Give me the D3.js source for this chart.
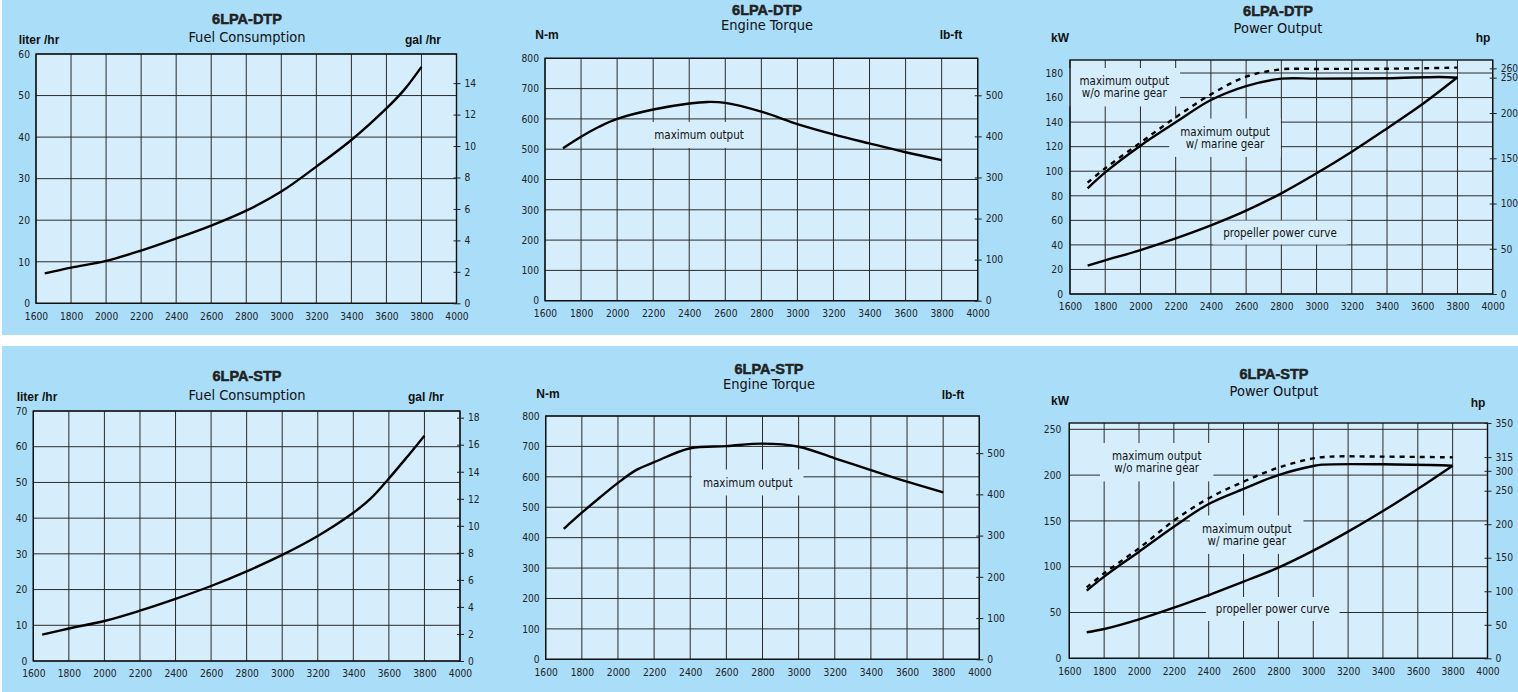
<!DOCTYPE html>
<html><head><meta charset="utf-8">
<script src="https://cdn.jsdelivr.net/npm/d3@7"></script>
<style>
html,body{margin:0;padding:0;background:#fff;}
svg{display:block;}
.tk text{font-family:'Liberation Sans Narrow','Arial Narrow','DejaVu Sans Condensed',sans-serif;font-size:10.2px;fill:#222;}
</style></head><body>
<svg id="c" width="1518" height="692"></svg>
<script>
// ---------- shared ----------
const rpmTicks = [1600,1800,2000,2200,2400,2600,2800,3000,3200,3400,3600,3800,4000];
const torqueNmTicks = [0,100,200,300,400,500,600,700,800];
const torqueLbftTicks = [0,100,200,300,400,500];
const NM_PER_LBFT = 1.3558;
const L_PER_GAL = 3.785;

// ---------- 6LPA-DTP ----------
const dtpFuelRpm = [1650,1800,2000,2200,2400,2600,2800,3000,3200,3400,3600,3700,3800];
const dtpFuelLph = [7.2,8.6,10.2,12.7,15.6,18.7,22.3,26.9,32.9,39.3,46.9,51.3,56.9];
const dtpFuelTicks = [0,10,20,30,40,50,60];
const dtpFuelGalTicks = [0,2,4,6,8,10,12,14];

const dtpTorqueRpm = [1700,1800,1900,2000,2200,2400,2500,2600,2800,3000,3200,3400,3600,3800];
const dtpTorqueNm = [503,541,574,600,631,651,656,653,624,583,549,519,490,464];

const dtpGearRpm = [1700,1800,2000,2200,2400,2600,2800,3000,3400,3700,3800];
const dtpGearKw = [86.1,99.1,120.8,139.8,158,169.4,175.4,175.4,175.7,176.8,176.2];
const dtpNoGearRpm = [1700,1800,2000,2200,2400,2600,2800,3000,3400,3800];
const dtpNoGearKw = [90.7,102.4,123.3,143.9,162.6,177,183,183.3,183.5,184.4];
const dtpPropRpm = [1700,1800,2000,2200,2400,2600,2800,3000,3200,3400,3600,3800];
const dtpPropKw = [23.1,27.4,35.8,45.3,55.9,67.9,82,98.3,115.9,134.9,154.5,176.5];
const dtpKwTicks = [0,20,40,60,80,100,120,140,160,180];
const dtpHpTicks = [0,50,100,150,200,250,260];
const dtpHpCalHp = [0,200,250,260];
const dtpHpCalKw = [0,147.4,176.2,183.8];

// ---------- 6LPA-STP ----------
const stpFuelRpm = [1650,1800,2000,2200,2400,2600,2800,3000,3200,3400,3500,3600,3700,3800];
const stpFuelLph = [7.4,9.1,11.2,14.1,17.4,21.0,25.1,29.7,35.0,41.5,45.6,51.1,57.0,63.1];
const stpFuelTicks = [0,10,20,30,40,50,60,70];
const stpFuelGalTicks = [0,2,4,6,8,10,12,14,16,18];

const stpTorqueRpm = [1700,1800,1900,2000,2100,2200,2400,2600,2800,3000,3200,3400,3600,3800];
const stpTorqueNm = [429,482,532,580,622,648,694,701,709,699,661,622,584,549];

const stpGearRpm = [1700,1800,2000,2200,2400,2600,2800,3000,3050,3400,3800];
const stpGearKw = [73.9,89.2,116.4,143.7,168.5,184.9,200.1,210,211.4,211.8,210.3];
const stpNoGearRpm = [1700,1800,2000,2200,2400,2600,2800,3000,3100,3400,3800];
const stpNoGearKw = [77.5,92.8,120.1,150.3,174.7,192.9,208.2,218.3,220.2,220.2,219.4];
const stpPropRpm = [1700,1800,2000,2200,2400,2600,2800,3000,3200,3400,3600,3800];
const stpPropKw = [28.4,32,42.6,55.3,69.1,83.7,99,117.5,138.3,160.8,184.9,210.3];
const stpKwTicks = [0,50,100,150,200,250];
const stpHpTicks = [0,50,100,150,200,250,300,315,350];
const stpHpCalHp = [0,250,300,315,350];
const stpHpCalKw = [0,183,204.7,219.7,256.9];

// ---------- drawing ----------
const svg = d3.select('#c');
const BG = '#a9ddf8', PLOT = '#d6eefb';
const NARROW = "'Liberation Sans Narrow','Arial Narrow','DejaVu Sans Condensed',sans-serif";
const SANS = "'Liberation Sans',Arial,sans-serif";

svg.append('rect').attr('x',0).attr('y',0).attr('width',1518).attr('height',692).attr('fill','#fff');
svg.append('rect').attr('x',2).attr('y',0).attr('width',1516).attr('height',335).attr('fill',BG);
svg.append('rect').attr('x',2).attr('y',346).attr('width',1516).attr('height',346).attr('fill',BG);

function panel(c){
  const g = svg.append('g');
  const x = d3.scaleLinear().domain([1600,4000]).range([c.x0,c.x1]);
  const y = d3.scaleLinear().domain([0,c.yTopVal]).range([c.yb,c.yt]);
  g.append('rect').attr('x',c.x0).attr('y',c.yt).attr('width',c.x1-c.x0).attr('height',c.yb-c.yt).attr('fill',PLOT);
  // grid
  g.append('g').selectAll('line').data(rpmTicks).join('line')
    .attr('x1',d=>x(d)).attr('x2',d=>x(d)).attr('y1',c.yt).attr('y2',c.yb)
    .attr('stroke','#2a2a2a').attr('stroke-width',1);
  g.append('g').selectAll('line').data(c.leftTicks).join('line')
    .attr('x1',c.x0).attr('x2',c.x1).attr('y1',d=>y(d)).attr('y2',d=>y(d))
    .attr('stroke','#2a2a2a').attr('stroke-width',1);
  // labels with background
  (c.labels||[]).forEach(L=>{
    const lg = g.append('g');
    const t = lg.append('text').attr('x',L.x).attr('y',L.y)
      .attr('text-anchor','middle').attr('font-family',NARROW).attr('font-size',11.5).attr('fill','#111');
    L.lines.forEach((s,i)=>t.append('tspan').attr('x',L.x).attr('dy',i===0?0:12.4).text(s));
    const b = t.node().getBBox();
    lg.insert('rect','text').attr('x',b.x-L.px).attr('y',b.y-L.py).attr('width',b.width+2*L.px).attr('height',b.height+2*L.py).attr('fill',PLOT);
  });
  // curves
  const line = d3.line().x(d=>x(d[0])).y(d=>y(d[1])).curve(d3.curveCatmullRom.alpha(0.5));
  c.series.forEach(s=>{
    g.append('path').datum(d3.zip(s.rpm,s.val)).attr('d',line)
      .attr('fill','none').attr('stroke','#000').attr('stroke-width',2.4)
      .attr('stroke-linecap','butt').attr('stroke-linejoin','round')
      .attr('stroke-dasharray',s.dash||null);
  });
  // border
  g.append('rect').attr('x',c.x0).attr('y',c.yt).attr('width',c.x1-c.x0).attr('height',c.yb-c.yt)
    .attr('fill','none').attr('stroke','#111').attr('stroke-width',1.4);
  // axes
  const ab = g.append('g').attr('class','tk').attr('transform',`translate(0,${c.yb})`)
    .call(d3.axisBottom(x).tickValues(rpmTicks).tickSize(0).tickPadding(c.xPad).tickFormat(d3.format('d')));
  ab.select('.domain').remove();
  const al = g.append('g').attr('class','tk').attr('transform',`translate(${c.x0},0)`)
    .call(d3.axisLeft(y).tickValues(c.leftTicks).tickSize(0).tickPadding(c.lPad).tickFormat(d3.format('d')));
  al.select('.domain').remove();
  const ar = g.append('g').attr('class','tk').attr('transform',`translate(${c.x1-3},0)`)
    .call(d3.axisRight(c.yRight(y)).tickValues(c.rightTicks).tickSize(7).tickPadding(4).tickFormat(d3.format('d')));
  ar.select('.domain').remove();
  ar.selectAll('.tick line').attr('stroke','#222').attr('stroke-width',1);
  // titles
  g.append('text').attr('x',c.tx).attr('y',c.t1y).attr('text-anchor','middle').attr('dominant-baseline','central')
    .attr('font-family',SANS).attr('font-weight','bold').attr('font-size',14.5).attr('fill','#222')
    .attr('stroke','#222').attr('stroke-width',0.5).text(c.title);
  g.append('text').attr('x',c.tx).attr('y',c.t2y).attr('text-anchor','middle').attr('dominant-baseline','central')
    .attr('font-family',NARROW).attr('font-size',14.5).attr('fill','#111').text(c.subtitle);
  g.append('text').attr('x',c.ulx).attr('y',c.uly).attr('text-anchor','middle').attr('dominant-baseline','central')
    .attr('font-family',SANS).attr('font-weight','bold').attr('font-size',12).attr('fill','#111').text(c.unitL);
  g.append('text').attr('x',c.urx).attr('y',c.ury).attr('text-anchor','middle').attr('dominant-baseline','central')
    .attr('font-family',SANS).attr('font-weight','bold').attr('font-size',12).attr('fill','#111').text(c.unitR);
}

const galScale = y => d3.scaleLinear().domain(y.domain().map(v=>v/L_PER_GAL)).range(y.range());
const lbftScale = y => d3.scaleLinear().domain(y.domain().map(v=>v/NM_PER_LBFT)).range(y.range());
const hpScale = (hp,kw) => y => d3.scaleLinear().domain(hp).range(kw.map(v=>y(v)));

// DTP fuel
panel({x0:36,x1:456.5,yb:303.3,yt:54,yTopVal:60,leftTicks:dtpFuelTicks,rightTicks:dtpFuelGalTicks,yRight:galScale,
  xPad:9,lPad:6,series:[{rpm:dtpFuelRpm,val:dtpFuelLph}],
  title:'6LPA-DTP',subtitle:'Fuel Consumption',tx:247,t1y:19,t2y:37,unitL:'liter /hr',ulx:39,uly:39.5,unitR:'gal /hr',urx:423,ury:40});
// DTP torque
panel({x0:545,x1:977.7,yb:300.7,yt:58.3,yTopVal:800,leftTicks:torqueNmTicks,rightTicks:torqueLbftTicks,yRight:lbftScale,
  xPad:9,lPad:6,series:[{rpm:dtpTorqueRpm,val:dtpTorqueNm}],
  labels:[{x:699,y:139,lines:['maximum output'],px:11,py:6}],
  title:'6LPA-DTP',subtitle:'Engine Torque',tx:767,t1y:10,t2y:24.5,unitL:'N-m',ulx:547,uly:35,unitR:'lb-ft',urx:951,ury:35});
// DTP power
panel({x0:1070,x1:1492.7,yb:294,yt:60,yTopVal:190.6,leftTicks:dtpKwTicks,rightTicks:dtpHpTicks,yRight:hpScale(dtpHpCalHp,dtpHpCalKw),
  xPad:9,lPad:7,
  series:[{rpm:dtpNoGearRpm,val:dtpNoGearKw,dash:'5,5'},{rpm:dtpGearRpm,val:dtpGearKw},{rpm:dtpPropRpm,val:dtpPropKw}],
  labels:[{x:1124.3,y:85,lines:['maximum output','w/o marine gear'],px:11,py:6},
          {x:1225,y:135.5,lines:['maximum output','w/ marine gear'],px:11,py:6},
          {x:1280,y:236.5,lines:['propeller power curve'],px:10,py:5}],
  title:'6LPA-DTP',subtitle:'Power Output',tx:1278,t1y:11,t2y:27.5,unitL:'kW',ulx:1060,uly:38,unitR:'hp',urx:1483,ury:38});
// STP fuel
panel({x0:33.3,x1:460,yb:661,yt:411,yTopVal:70,leftTicks:stpFuelTicks,rightTicks:stpFuelGalTicks,yRight:galScale,
  xPad:9,lPad:6,series:[{rpm:stpFuelRpm,val:stpFuelLph}],
  title:'6LPA-STP',subtitle:'Fuel Consumption',tx:247,t1y:376,t2y:394.5,unitL:'liter /hr',ulx:37,uly:397,unitR:'gal /hr',urx:426,ury:397});
// STP torque
panel({x0:545.7,x1:979.3,yb:659.3,yt:416,yTopVal:800,leftTicks:torqueNmTicks,rightTicks:torqueLbftTicks,yRight:lbftScale,
  xPad:9,lPad:6,series:[{rpm:stpTorqueRpm,val:stpTorqueNm}],
  labels:[{x:747.7,y:486.5,lines:['maximum output'],px:11,py:6}],
  title:'6LPA-STP',subtitle:'Engine Torque',tx:769,t1y:368.5,t2y:383.5,unitL:'N-m',ulx:548,uly:393.5,unitR:'lb-ft',urx:953,ury:395});
// STP power
panel({x0:1069.3,x1:1487.5,yb:658.3,yt:423,yTopVal:256.9,leftTicks:stpKwTicks,rightTicks:stpHpTicks,yRight:hpScale(stpHpCalHp,stpHpCalKw),
  xPad:9,lPad:8,
  series:[{rpm:stpNoGearRpm,val:stpNoGearKw,dash:'5,5'},{rpm:stpGearRpm,val:stpGearKw},{rpm:stpPropRpm,val:stpPropKw}],
  labels:[{x:1156.7,y:460,lines:['maximum output','w/o marine gear'],px:12,py:6},
          {x:1246.7,y:532.5,lines:['maximum output','w/ marine gear'],px:12,py:6},
          {x:1272.7,y:613,lines:['propeller power curve'],px:10,py:5}],
  title:'6LPA-STP',subtitle:'Power Output',tx:1274,t1y:374,t2y:391,unitL:'kW',ulx:1060,uly:401,unitR:'hp',urx:1478,ury:403});
</script>
</body></html>
